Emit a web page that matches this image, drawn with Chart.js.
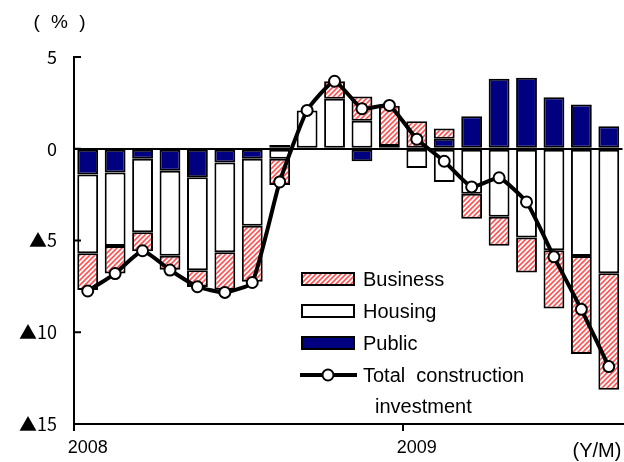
<!DOCTYPE html>
<html>
<head>
<meta charset="utf-8">
<script src="https://cdn.jsdelivr.net/npm/chart.js@4"></script>
<style>
  html, body { margin: 0; padding: 0; background: #fff; overflow: hidden; }
  #wrap { width: 630px; height: 462px; }
</style>
</head>
<body>
<div id="wrap"><canvas id="constChart" width="630" height="462"></canvas></div>
<script>
// months 2008/1 .. 2009/8
const months = ['2008/1','2008/2','2008/3','2008/4','2008/5','2008/6','2008/7','2008/8','2008/9','2008/10','2008/11','2008/12',
                '2009/1','2009/2','2009/3','2009/4','2009/5','2009/6','2009/7','2009/8'];
const xTickText = ['2008','','','','','','','','','','','','2009','','','','','','',''];

const publicInv   = [-1.40,-1.30,-0.55,-1.20,-1.55,-0.75,-0.55, 0.20, 0.00, 0.00,-0.68, 0.15, 0.00, 0.55, 1.77, 3.82, 3.87, 2.80, 2.41, 1.23];
const housingInv  = [-4.30,-4.00,-4.00,-4.63,-5.07,-4.89,-3.65,-0.55, 2.09, 2.73, 1.52, 0.00,-1.05,-1.81,-2.45,-3.71,-4.84,-5.53,-5.84,-6.79];
const businessInv = [-2.00,-1.50,-1.03,-0.76,-0.91,-2.05,-3.05,-1.43, 0.00, 0.95, 1.33, 2.20, 1.50, 0.55,-1.36,-1.58,-1.90,-3.17,-5.34,-6.35];
const totalInv    = [-7.75,-6.80,-5.56,-6.61,-7.52,-7.83,-7.29,-1.81, 2.09, 3.68, 2.18, 2.36, 0.52,-0.68,-2.08,-1.58,-2.90,-5.89,-8.75,-11.87];

const yTickValues = [5, 0, -5, -10, -15];
const yTickLabels = ['5', '0', '▲5', '▲10', '▲15'];

const NAVY = '#000080';
const FONT = '"Liberation Sans", Arial, sans-serif';
const TICK_FONT = '"Noto Sans CJK JP", "Liberation Sans", sans-serif';

const canvas = document.getElementById('constChart');
const ctx = canvas.getContext('2d');

function makeHatch() {
    const s = 5;
    const c = document.createElement('canvas');
    c.width = s; c.height = s;
    const g = c.getContext('2d');
    g.fillStyle = '#fff';
    g.fillRect(0, 0, s, s);
    g.strokeStyle = '#ff5252';
    g.lineWidth = 1.6;
    g.beginPath();
    g.moveTo(0, s); g.lineTo(s, 0);
    g.moveTo(-s, s); g.lineTo(s, -s);
    g.moveTo(0, 2 * s); g.lineTo(2 * s, 0);
    g.stroke();
    return ctx.createPattern(c, 'repeat');
}
const hatch = makeHatch();

// legend, inner y ticks and extra labels
const decorPlugin = {
    id: 'decor',
    afterDraw(chart) {
        const c = chart.ctx;
        const y = chart.scales.y;
        const left = chart.chartArea.left;
        c.save();
        c.strokeStyle = '#000';
        c.lineWidth = 2;
        yTickValues.forEach(v => {
            const py = y.getPixelForValue(v);
            c.beginPath();
            c.moveTo(left - 1, py);
            c.lineTo(left + 7, py);
            c.stroke();
        });

        c.fillStyle = '#000';
        c.textAlign = 'center';
        c.textBaseline = 'middle';
        c.font = '19px ' + FONT;
        c.letterSpacing = '3px';
        c.fillText('( % )', 61, 23);
        c.letterSpacing = '0px';
        c.font = '20px ' + FONT;
        c.fillText('(Y/M)', 597, 451);

        // legend
        const lx = 302, bw = 52, bh = 12;
        const rows = [
            { label: 'Business', fill: hatch, cy: 279 },
            { label: 'Housing', fill: '#fff', cy: 311 },
            { label: 'Public', fill: NAVY, cy: 343 }
        ];
        c.font = '20px ' + FONT;
        c.textAlign = 'left';
        rows.forEach(r => {
            c.fillStyle = r.fill;
            c.fillRect(lx, r.cy - bh / 2, bw, bh);
            c.strokeStyle = '#000';
            c.lineWidth = 2;
            c.strokeRect(lx, r.cy - bh / 2, bw, bh);
            c.fillStyle = '#000';
            c.fillText(r.label, 363, r.cy + 1);
        });
        const ly = 375;
        c.lineWidth = 4;
        c.beginPath();
        c.moveTo(300, ly);
        c.lineTo(357, ly);
        c.stroke();
        c.beginPath();
        c.arc(328, ly, 5.5, 0, Math.PI * 2);
        c.fillStyle = '#fff';
        c.fill();
        c.lineWidth = 2;
        c.stroke();
        c.fillStyle = '#000';
        c.fillText('Total  construction', 363, ly + 1);
        c.fillText('investment', 375, 407);
        c.restore();
    }
};

const barCommon = {
    type: 'bar',
    stack: 'inv',
    order: 1,
    borderColor: '#000',
    borderWidth: 2,
    borderSkipped: false,
    barPercentage: 0.76,
    categoryPercentage: 1.0
};

new Chart(canvas, {
    data: {
        labels: months,
        datasets: [
            {
                type: 'line',
                label: 'Total construction investment',
                data: totalInv,
                stack: 'total',
                order: 0,
                borderColor: '#000',
                borderWidth: 4,
                tension: 0.15,
                pointRadius: 5.5,
                pointBackgroundColor: '#fff',
                pointBorderColor: '#000',
                pointBorderWidth: 2
            },
            Object.assign({ label: 'Public', data: publicInv, backgroundColor: NAVY }, barCommon),
            Object.assign({ label: 'Housing', data: housingInv, backgroundColor: '#fff' }, barCommon),
            Object.assign({ label: 'Business', data: businessInv, backgroundColor: hatch }, barCommon)
        ]
    },
    options: {
        responsive: false,
        animation: false,
        layout: { padding: { top: 57, right: 2, bottom: 0, left: 0 } },
        plugins: {
            legend: { display: false },
            tooltip: { enabled: false }
        },
        scales: {
            x: {
                stacked: true,
                offset: true,
                border: { display: true, color: '#000', width: 2 },
                grid: {
                    offset: true,
                    drawOnChartArea: false,
                    tickLength: 7,
                    lineWidth: 2,
                    color: c => (c.index === 0 || c.index === 12) ? '#000' : 'rgba(0,0,0,0)'
                },
                ticks: {
                    autoSkip: false,
                    maxRotation: 0,
                    padding: 6,
                    color: '#000',
                    font: { family: FONT, size: 18 },
                    callback: (v, i) => xTickText[i]
                },
                afterFit: s => { s.height = 38; }
            },
            y: {
                stacked: true,
                min: -15,
                max: 5,
                border: { display: true, color: '#000', width: 2 },
                grid: {
                    drawTicks: false,
                    lineWidth: 2,
                    color: c => (c.tick && c.tick.value === 0) ? '#000' : 'rgba(0,0,0,0)'
                },
                ticks: {
                    stepSize: 5,
                    padding: 17,
                    color: '#000',
                    font: { family: TICK_FONT, size: 18 },
                    callback: v => yTickLabels[yTickValues.indexOf(v)]
                },
                afterFit: s => { s.width = 74; }
            }
        }
    },
    plugins: [decorPlugin]
});
</script>
</body>
</html>
